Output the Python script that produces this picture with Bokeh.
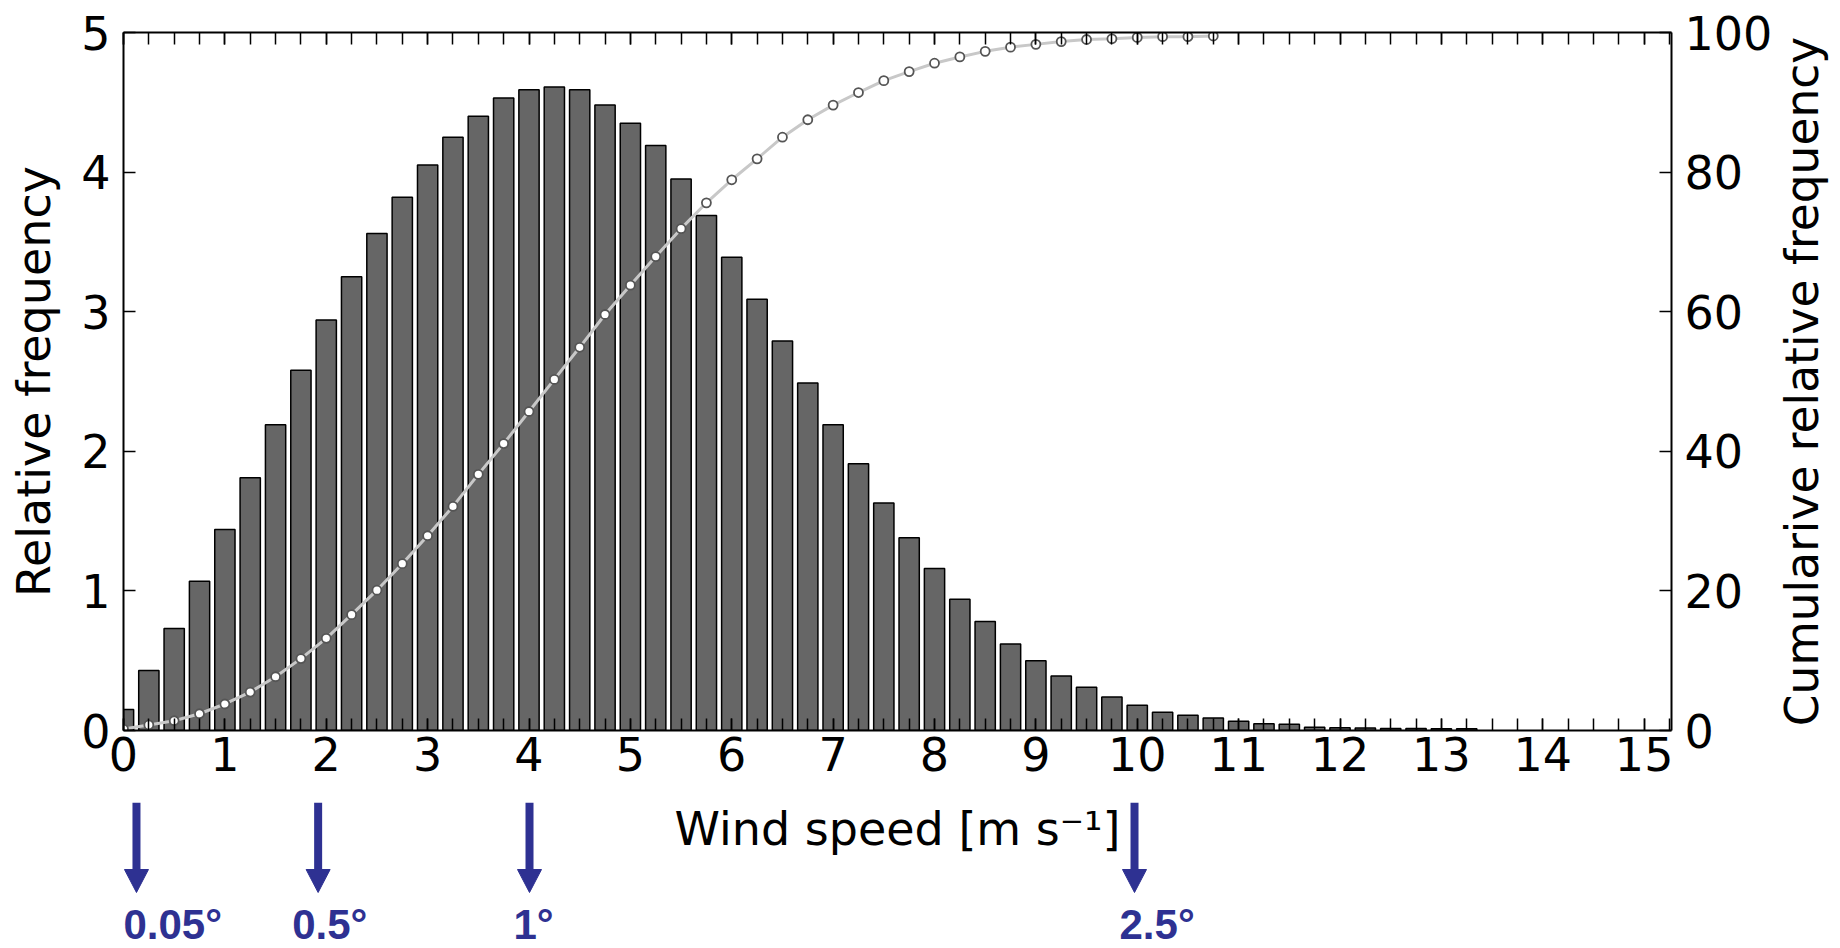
import math
from bokeh.plotting import figure
from bokeh.layouts import gridplot
from bokeh.models import (ColumnDataSource, Range1d, LinearAxis, SingleIntervalTicker,
                          FixedTicker, CustomJSTickFormatter)
from bokeh.core.properties import value
from bokeh.embed import file_html
from bokeh.resources import INLINE

# ---------------- data ----------------
wind_speed = [0.0, 0.25, 0.5, 0.75, 1.0, 1.25, 1.5, 1.75, 2.0, 2.25, 2.5, 2.75,
              3.0, 3.25, 3.5, 3.75, 4.0, 4.25, 4.5, 4.75, 5.0, 5.25, 5.5, 5.75,
              6.0, 6.25, 6.5, 6.75, 7.0, 7.25, 7.5, 7.75, 8.0, 8.25, 8.5, 8.75,
              9.0, 9.25, 9.5, 9.75, 10.0, 10.25, 10.5, 10.75, 11.0, 11.25, 11.5, 11.75,
              12.0, 12.25, 12.5, 12.75, 13.0, 13.25]
rel_freq = [0.15, 0.43, 0.73, 1.07, 1.44, 1.81, 2.19, 2.58, 2.94, 3.25, 3.56, 3.82,
            4.05, 4.25, 4.40, 4.53, 4.59, 4.61, 4.59, 4.48, 4.35, 4.19, 3.95, 3.69,
            3.39, 3.09, 2.79, 2.49, 2.19, 1.91, 1.63, 1.38, 1.16, 0.94, 0.78, 0.62,
            0.50, 0.39, 0.31, 0.24, 0.18, 0.13, 0.11, 0.09, 0.067, 0.048, 0.045, 0.024,
            0.02, 0.018, 0.015, 0.015, 0.012, 0.012]

cum_speed = [0.0, 0.25, 0.5, 0.75, 1.0, 1.25, 1.5, 1.75, 2.0, 2.25, 2.5, 2.75,
             3.0, 3.25, 3.5, 3.75, 4.0, 4.25, 4.5, 4.75, 5.0, 5.25, 5.5, 5.75,
             6.0, 6.25, 6.5, 6.75, 7.0, 7.25, 7.5, 7.75, 8.0, 8.25, 8.5, 8.75,
             9.0, 9.25, 9.5, 9.75, 10.0, 10.25, 10.5, 10.75]
cum_freq = [0.2, 0.8, 1.4, 2.4, 3.8, 5.5, 7.7, 10.3, 13.2, 16.6, 20.1, 23.9,
            27.9, 32.1, 36.7, 41.1, 45.7, 50.3, 54.9, 59.6, 63.8, 67.9, 71.9, 75.6,
            78.9, 81.9, 85.0, 87.5, 89.6, 91.4, 93.1, 94.4, 95.6, 96.5, 97.3, 97.9,
            98.3, 98.7, 99.0, 99.1, 99.3, 99.4, 99.4, 99.5]

left_ticks = [0, 1, 2, 3, 4, 5]
right_ticks = [0, 20, 40, 60, 80, 100]

x_title = "Wind speed [m s⁻¹]"
left_title = "Relative frequency"
right_title = "Cumularive relative frequency"

arrow_speed = [0.128, 1.92, 4.005, 9.973]
arrow_labels = ["0.05°", "0.5°", "1°", "2.5°"]

# ---------------- layout / style (page px) ----------------
W_TOTAL, H_TOTAL = 1840, 948
FRAME_W, FRAME_H = 1548, 698
BL, BT = 123, 32
BR = 110                      # room for the right tick labels
P_W = BL + FRAME_W + BR       # main plot width
P_H = 802                     # main plot height (arrows start here)
BB = P_H - BT - FRAME_H
PR_W = W_TOTAL - P_W          # strip for the right-hand title
PB_H = H_TOTAL - P_H          # strip below for x title and arrows
X_END = 15.27
Y_END = 5
PPU = FRAME_W / X_END
FONT = "DejaVu Sans"
FS = "46px"
BLUE = "#2e3192"
label_dx = [-13, -26, -16, -15]


def pby(page_y):
    return H_TOTAL - page_y


p = figure(frame_width=FRAME_W, frame_height=FRAME_H,
           x_range=Range1d(0, X_END), y_range=Range1d(0, Y_END),
           x_axis_location=None, y_axis_location=None,
           min_border_left=BL, min_border_right=BR,
           min_border_top=BT, min_border_bottom=BB,
           output_backend="svg", toolbar_location=None)
p.outline_line_color = None
p.grid.visible = False
p.extra_y_ranges = {"cum": Range1d(0, 100)}


def style_axis(ax, standoff, label_standoff=0):
    ax.axis_line_color = "black"
    ax.axis_line_width = 2
    ax.major_tick_in = 12
    ax.major_tick_out = 0
    ax.minor_tick_in = 12
    ax.minor_tick_out = 0
    ax.major_tick_line_color = "black"
    ax.major_tick_line_width = 1.5
    ax.minor_tick_line_color = "black"
    ax.minor_tick_line_width = 1.5
    ax.major_label_text_font = FONT
    ax.major_label_text_font_size = FS
    ax.major_label_text_color = "black"
    ax.major_label_standoff = standoff
    ax.axis_label_text_font = FONT
    ax.axis_label_text_font_size = FS
    ax.axis_label_text_font_style = "normal"
    ax.axis_label_text_color = "black"
    ax.axis_label_standoff = label_standoff


xticker = SingleIntervalTicker(interval=1, num_minor_ticks=4)

xb = LinearAxis(ticker=xticker)
style_axis(xb, 6)
p.add_layout(xb, "below")

xa = LinearAxis(ticker=xticker, formatter=CustomJSTickFormatter(code="return ''"))
style_axis(xa, 0)
p.add_layout(xa, "above")

yl = LinearAxis(ticker=FixedTicker(ticks=left_ticks), axis_label=left_title)
style_axis(yl, 13, 17)
p.add_layout(yl, "left")

yr = LinearAxis(y_range_name="cum", ticker=FixedTicker(ticks=right_ticks))
style_axis(yr, 13)
p.add_layout(yr, "right")

bars = ColumnDataSource(dict(x=wind_speed, top=rel_freq))
p.vbar(x="x", top="top", bottom=0, width=0.2, source=bars,
       fill_color="#666666", line_color="black", line_width=1.5)

cum = ColumnDataSource(dict(x=cum_speed, y=cum_freq))
p.line(x="x", y="y", source=cum, y_range_name="cum",
       line_color="#c8c8c8", line_width=3)
p.scatter(x="x", y="y", source=cum, y_range_name="cum", marker="circle",
          size=9, fill_color="white", line_color="#555555", line_width=1.8)

# ---------------- right strip: title reading bottom to top ----------------
pr = figure(frame_width=PR_W, frame_height=FRAME_H,
            x_range=Range1d(P_W, W_TOTAL), y_range=Range1d(0, FRAME_H),
            x_axis_location=None, y_axis_location=None,
            min_border_left=0, min_border_right=0,
            min_border_top=BT, min_border_bottom=BB,
            output_backend="svg", toolbar_location=None)
pr.outline_line_color = None
pr.grid.visible = False
pr.text(x=[1802], y=[FRAME_H / 2], text=[right_title],
        angle=math.pi / 2, text_align="center", text_baseline="middle",
        text_font=value(FONT), text_font_size="45.5px", text_color="black")

# ---------------- bottom strip: x title, arrows, labels ----------------
pb = figure(frame_width=FRAME_W, frame_height=PB_H,
            x_range=Range1d(0, X_END), y_range=Range1d(0, PB_H),
            x_axis_location=None, y_axis_location=None,
            min_border_left=BL, min_border_right=BR,
            min_border_top=0, min_border_bottom=0,
            output_backend="svg", toolbar_location=None)
pb.outline_line_color = None
pb.grid.visible = False

pb.text(x=[X_END / 2], y=[pby(828)], text=[x_title], text_align="center",
        text_baseline="middle", text_font=value(FONT), text_font_size=FS,
        text_color="black")

n = len(arrow_speed)
pb.segment(x0=arrow_speed, y0=[pby(802)] * n, x1=arrow_speed, y1=[pby(871)] * n,
           line_color=BLUE, line_width=8, line_cap="butt")
pb.patches(xs=[[s - 12 / PPU, s + 12 / PPU, s] for s in arrow_speed],
           ys=[[pby(869), pby(869), pby(892)] for _ in arrow_speed],
           fill_color=BLUE, line_color=BLUE, line_width=1)

lab = ColumnDataSource(dict(x=arrow_speed, y=[pby(924)] * n, t=arrow_labels, dx=label_dx))
pb.text(x="x", y="y", text="t", x_offset="dx", source=lab, text_align="left",
        text_baseline="middle", text_font=value("Liberation Sans"),
        text_font_style="bold", text_font_size="42px", text_color=BLUE)

grid = gridplot([[p, pr], [pb, None]], toolbar_location=None)
open("out.html", "w").write(file_html(grid, INLINE))
